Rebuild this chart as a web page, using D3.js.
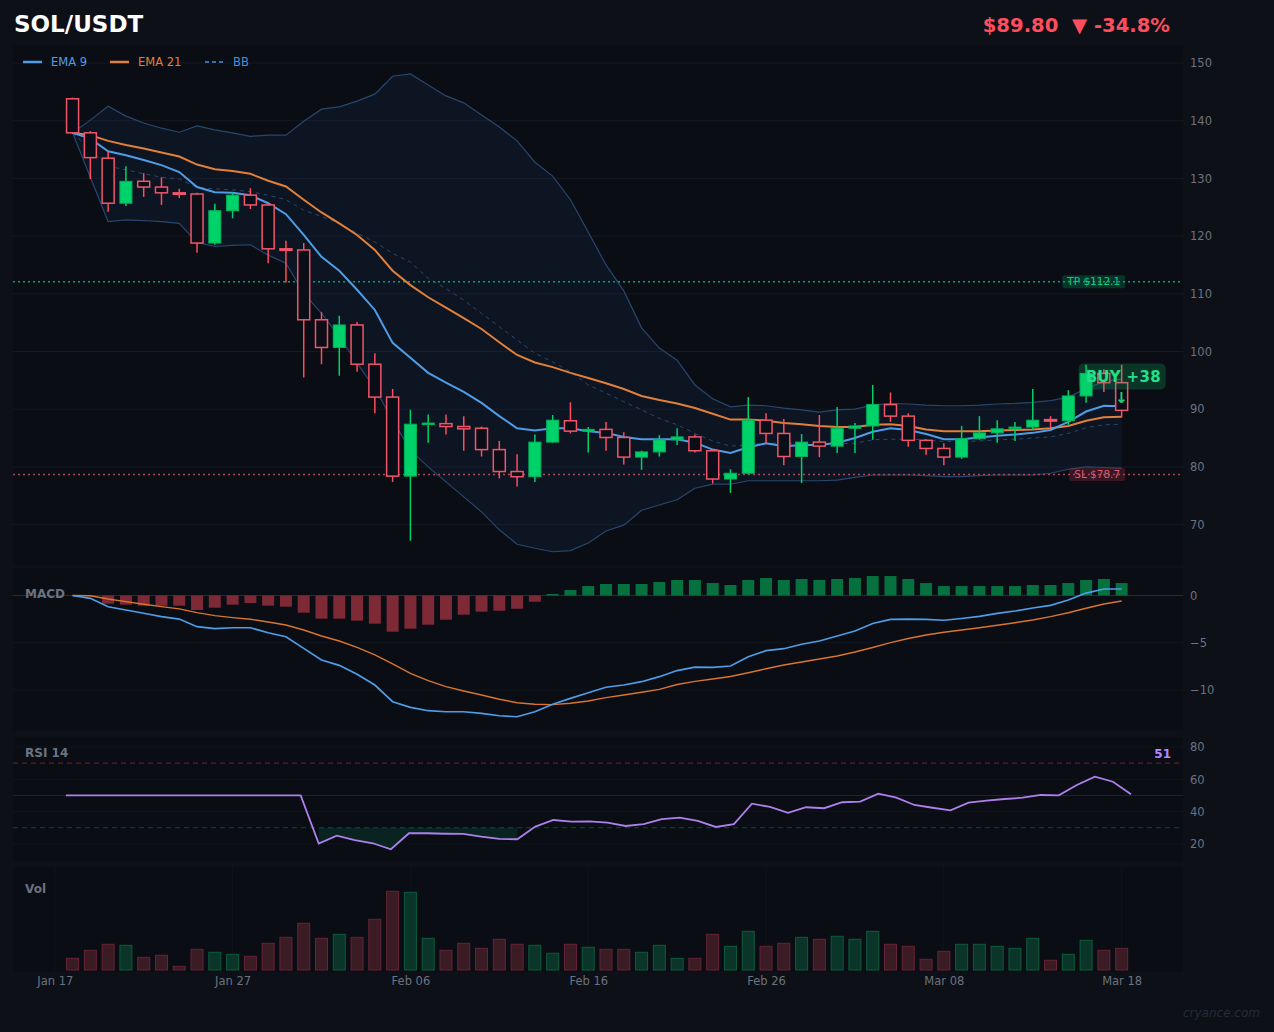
<!DOCTYPE html>
<html><head><meta charset="utf-8">
<script src="https://cdn.jsdelivr.net/npm/d3@7"></script>
<style>
html,body{margin:0;padding:0;background:#0d1017;}
svg{display:block;font-family:"DejaVu Sans",sans-serif;}
</style></head><body>
<svg id="c" width="1274" height="1032"></svg>
<script>
// ---------------- DATA ----------------
const startDate = "2025-01-18";
const opens  = [143.8,137.9,133.5,125.7,129.5,128.5,127.5,127.3,118.8,124.4,127.1,125.4,117.8,117.6,105.5,100.7,104.6,97.8,92.1,78.4,87.4,87.5,87.0,86.7,83.0,79.2,78.3,84.3,88.0,86.2,86.5,85.1,81.7,82.6,84.7,85.2,82.8,77.9,78.9,88.1,85.8,81.8,84.3,83.6,86.7,87.1,90.8,88.8,84.6,83.2,81.7,84.9,85.9,86.6,86.9,88.2,88.0,92.3,96.2,94.6];
const highs  = [144.0,138.2,134.6,132.1,130.9,130.2,128.2,127.5,125.6,127.6,128.3,125.5,119.2,118.8,106.8,106.2,105.1,99.7,93.5,89.9,89.1,89.1,88.8,87.0,84.5,82.2,85.6,89.0,91.2,86.9,87.8,86.0,82.8,85.5,86.7,85.6,83.0,79.6,92.1,89.3,88.3,85.7,89.0,90.4,87.6,94.2,92.9,89.3,84.8,84.1,87.1,88.8,88.1,87.8,93.5,88.8,93.3,97.7,96.9,97.7];
const lows   = [137.8,129.9,124.2,125.2,126.8,125.4,126.6,117.1,118.5,123.1,124.7,115.3,111.9,95.5,97.8,95.8,96.5,89.3,77.4,67.2,84.2,85.6,82.8,81.8,78.0,76.6,77.4,84.2,85.8,82.5,82.8,80.4,79.5,81.8,83.8,82.5,77.1,75.5,78.7,84.2,80.3,77.2,81.7,82.4,82.4,84.7,87.8,83.5,82.1,80.3,81.4,84.7,84.2,84.5,86.4,86.8,87.3,91.1,93.0,88.6];
const closes = [137.9,133.6,125.7,129.5,128.5,127.5,127.3,118.8,124.4,127.1,125.4,117.8,117.6,105.5,100.7,104.6,97.8,92.1,78.4,87.4,87.6,87.0,86.6,83.0,79.2,78.3,84.3,88.1,86.2,86.5,85.1,81.7,82.6,84.7,85.2,82.8,77.9,78.9,88.1,85.8,81.8,84.3,83.6,86.7,87.1,90.8,88.8,84.6,83.2,81.7,84.9,85.9,86.6,86.9,88.1,88.0,92.3,96.2,94.6,89.8];
const volumes = [1.17,1.97,2.57,2.47,1.27,1.47,0.37,2.07,1.77,1.57,1.37,2.67,3.27,4.67,3.17,3.57,3.27,5.07,7.87,7.77,3.17,1.97,2.67,2.17,3.07,2.57,2.47,1.67,2.57,2.27,2.07,2.07,1.77,2.47,1.17,1.17,3.57,2.37,3.87,2.37,2.67,3.27,3.07,3.37,3.07,3.87,2.57,2.37,1.07,1.87,2.57,2.57,2.37,2.17,3.17,0.97,1.57,2.97,1.97,2.17];
const ema9  = [137.9,136.9,134.7,134.0,133.2,132.3,131.1,128.5,127.6,127.5,127.1,125.7,123.8,120.2,116.4,114.0,110.7,107.2,101.5,98.9,96.3,94.6,93.0,91.1,88.8,86.7,86.3,86.7,86.7,86.2,85.9,85.2,84.8,84.8,84.8,84.2,83.0,82.4,83.4,84.1,83.6,83.8,83.8,84.2,85.0,86.1,86.7,86.4,85.7,84.8,84.8,85.1,85.4,85.6,85.9,86.4,87.8,89.6,90.6,90.5];
const ema21 = [137.9,137.5,136.5,135.8,135.2,134.5,133.8,132.4,131.6,131.3,130.8,129.6,128.6,126.3,124.1,122.2,120.2,117.6,114.0,111.5,109.4,107.6,105.8,103.9,101.6,99.4,98.1,97.3,96.3,95.4,94.5,93.5,92.3,91.6,91.0,90.2,89.2,88.2,88.2,88.0,87.6,87.4,87.1,86.9,86.9,87.3,87.4,87.1,86.5,86.2,86.2,86.2,86.3,86.4,86.5,86.7,87.1,88.0,88.6,88.7];
const bbUpper = [137.9,140.1,142.5,140.8,139.6,138.7,138.0,139.1,138.4,137.9,137.3,137.5,137.5,139.9,142.0,142.4,143.4,144.6,147.7,148.1,146.2,144.3,143.1,141.0,138.9,136.5,132.8,130.4,126.3,120.7,115.0,110.5,104.1,100.6,98.5,94.2,91.8,90.4,90.7,90.6,90.2,89.9,89.5,89.9,90.0,90.7,91.0,90.9,90.7,90.6,90.6,90.7,90.9,91.0,91.2,91.5,92.1,93.6,94.8,95.2];
const bbMid   = [137.9,135.0,132.1,131.5,130.8,130.2,129.9,128.4,128.2,128.0,127.7,127.1,126.3,124.5,123.4,122.2,120.5,119.0,117.0,115.5,112.7,110.9,108.9,106.6,104.3,102.0,99.7,98.2,96.5,94.2,92.8,91.3,89.9,88.4,87.3,85.8,84.5,83.6,83.8,84.1,84.1,84.1,84.0,84.0,84.1,84.7,84.8,84.8,84.7,84.4,84.4,84.5,84.7,84.8,85.0,85.2,85.8,86.8,87.3,87.4];
const bbLower = [137.9,130.2,122.5,122.8,122.7,122.5,122.2,118.9,118.2,118.4,118.5,116.7,115.3,110.1,106.6,102.6,98.0,93.6,88.1,82.9,80.0,77.4,74.8,72.2,69.1,66.6,65.9,65.3,65.5,66.8,68.9,69.9,72.5,73.4,74.3,76.3,77.0,77.0,77.6,77.6,77.6,77.6,77.6,77.7,78.2,78.6,78.6,78.6,78.5,78.3,78.3,78.5,78.6,78.6,78.6,78.9,79.6,80.0,79.9,79.8];
const macdLine   = [0,-0.30,-1.19,-1.53,-1.88,-2.24,-2.49,-3.30,-3.51,-3.41,-3.41,-3.94,-4.36,-5.59,-6.83,-7.39,-8.34,-9.47,-11.24,-11.83,-12.19,-12.30,-12.30,-12.47,-12.72,-12.83,-12.30,-11.51,-10.88,-10.29,-9.71,-9.47,-9.12,-8.59,-7.94,-7.57,-7.60,-7.46,-6.48,-5.84,-5.63,-5.16,-4.81,-4.29,-3.76,-2.96,-2.52,-2.49,-2.52,-2.62,-2.43,-2.20,-1.90,-1.64,-1.32,-1.04,-0.48,0.26,0.69,0.69];
const macdSignal = [0,-0.02,-0.37,-0.65,-0.93,-1.18,-1.42,-1.81,-2.13,-2.34,-2.51,-2.80,-3.12,-3.65,-4.28,-4.81,-5.48,-6.29,-7.24,-8.23,-9.01,-9.64,-10.10,-10.53,-10.98,-11.34,-11.51,-11.55,-11.40,-11.16,-10.81,-10.52,-10.24,-9.93,-9.42,-9.08,-8.84,-8.57,-8.17,-7.75,-7.35,-7.04,-6.72,-6.40,-5.98,-5.50,-4.99,-4.55,-4.18,-3.89,-3.65,-3.41,-3.15,-2.88,-2.59,-2.24,-1.82,-1.35,-0.90,-0.58];
const macdHist   = [0,-0.08,-0.87,-0.97,-1.08,-1.08,-1.08,-1.53,-1.29,-0.97,-0.79,-1.08,-1.18,-1.82,-2.45,-2.45,-2.66,-2.98,-3.83,-3.51,-3.09,-2.56,-2.03,-1.71,-1.61,-1.40,-0.66,0.16,0.58,1.00,1.22,1.22,1.22,1.43,1.64,1.64,1.32,1.11,1.64,1.85,1.64,1.75,1.64,1.75,1.85,2.06,2.06,1.75,1.32,1.00,1.00,1.00,1.00,1.00,1.11,1.11,1.32,1.64,1.75,1.32];
const rsi14 = [50,50,50,50,50,50,50,50,50,50,50,50,50,50,20.2,25.1,22.4,20.4,16.7,26.6,26.6,26.3,26.2,24.5,23.1,22.9,30.7,34.8,33.8,34.0,33.2,31.1,32.3,35.4,36.3,34.2,30.5,32.2,44.9,42.9,39.2,42.7,42.1,45.8,46.2,51.1,48.6,44.1,42.4,40.8,45.5,46.8,47.8,48.6,50.3,50.1,56.5,61.6,58.5,50.7];
const priceTicks = [70,80,90,100,110,120,130,140,150];
const macdTicks = [0,-5,-10];
const rsiTicks = [20,40,60,80];
const dateTicks = ["2025-01-17","2025-01-27","2025-02-06","2025-02-16","2025-02-26","2025-03-08","2025-03-18"];
const takeProfit = 112.1, stopLoss = 78.7;
const signalText = "BUY +38";
const headerPrice = "$89.80  \u25BC -34.8%";

// ---------------- LAYOUT ----------------
const DAY = 864e5;
const svg = d3.select("#c");
const L = 13, R = 1183;
const P = {main:[45,565], macd:[568,730], rsi:[737,862], vol:[867,972]};
const GRAY = "#6b7280", GREEN = "#00d26a", RED = "#f0566a";

const start = new Date(startDate);
const dates = d3.utcDay.range(start, d3.utcDay.offset(start, opens.length));
const data = dates.map((d,i)=>({date:d,o:opens[i],h:highs[i],l:lows[i],c:closes[i],v:volumes[i],
  e9:ema9[i],e21:ema21[i],bu:bbUpper[i],bm:bbMid[i],bl:bbLower[i],
  m:macdLine[i],s:macdSignal[i],hist:macdHist[i],rsi:rsi14[i]}));
const last = data[data.length-1];

const x = d3.scaleUtc().domain([new Date(+dates[0]-3.35*DAY), new Date(+last.date+3.45*DAY)]).range([L,R]);
const xr = d3.scaleUtc().domain([dates[0], last.date]).range([66,1131]);
const y = d3.scaleLinear().domain([63,153.12]).range([P.main[1],P.main[0]]);
const yM = d3.scaleLinear().domain([-14.23,2.91]).range([P.macd[1],P.macd[0]]);
const yR = d3.scaleLinear().domain([8.8,86.2]).range([P.rsi[1],P.rsi[0]]);
const yV = d3.scaleLinear().domain([0,10.3]).range([970,P.vol[0]]);

const defs = svg.append("defs");
Object.entries(P).forEach(([k,[t,b]])=>{
  svg.append("rect").attr("x",L).attr("y",t).attr("width",R-L).attr("height",b-t).attr("fill","#0a0d14");
  defs.append("clipPath").attr("id","clip-"+k).append("rect").attr("x",L).attr("y",t).attr("width",R-L).attr("height",b-t);
});
const gMain = svg.append("g").attr("clip-path","url(#clip-main)");
const gMacd = svg.append("g").attr("clip-path","url(#clip-macd)");
const gRsi  = svg.append("g").attr("clip-path","url(#clip-rsi)");
const gVol  = svg.append("g").attr("clip-path","url(#clip-vol)");

function hgrid(g, scale, ticks, color){
  g.selectAll(null).data(ticks).join("line")
    .attr("x1",L).attr("x2",R).attr("y1",d=>scale(d)).attr("y2",d=>scale(d))
    .attr("stroke",color).attr("stroke-width",1);
}
function rightAxis(scale, ticks){
  const ax = svg.append("g").attr("transform",`translate(${R},0)`)
    .call(d3.axisRight(scale).tickValues(ticks).tickSize(0).tickPadding(7));
  ax.select(".domain").remove();
  ax.selectAll("text").attr("fill",GRAY).style("font-size","11.5px").style("font-family","DejaVu Sans");
}

// ---------------- MAIN PANEL ----------------
hgrid(gMain, y, priceTicks, "#141922");
gMain.append("path").datum(data)
  .attr("d", d3.area().x(d=>x(d.date)).y0(d=>y(d.bl)).y1(d=>y(d.bu)))
  .attr("fill","rgba(45,90,170,0.10)");
[["bu"],["bl"]].forEach(([k])=>{
  gMain.append("path").datum(data).attr("d", d3.line().x(d=>x(d.date)).y(d=>y(d[k])))
    .attr("fill","none").attr("stroke","#28476e").attr("stroke-width",1.2);
});
gMain.append("path").datum(data).attr("d", d3.line().x(d=>x(d.date)).y(d=>y(d.bm)))
  .attr("fill","none").attr("stroke","#2b4870").attr("stroke-width",1).attr("stroke-dasharray","4,4");

gMain.append("line").attr("x1",L).attr("x2",R).attr("y1",y(takeProfit)).attr("y2",y(takeProfit))
  .attr("stroke","#00a56c").attr("stroke-width",1.5).attr("stroke-dasharray","2,3");
gMain.append("line").attr("x1",L).attr("x2",R).attr("y1",y(stopLoss)).attr("y2",y(stopLoss))
  .attr("stroke","#a8475a").attr("stroke-width",1.5).attr("stroke-dasharray","2,3");

gMain.append("path").datum(data).attr("d", d3.line().x(d=>x(d.date)).y(d=>y(d.e21)))
  .attr("fill","none").attr("stroke","#e0803a").attr("stroke-width",2);
gMain.append("path").datum(data).attr("d", d3.line().x(d=>x(d.date)).y(d=>y(d.e9)))
  .attr("fill","none").attr("stroke","#4f9de6").attr("stroke-width",2);

const bw = 12;
const cg = gMain.selectAll("g.candle").data(data).join("g");
cg.append("line").attr("x1",d=>x(d.date)).attr("x2",d=>x(d.date))
  .attr("y1",d=>y(d.h)).attr("y2",d=>y(d.l))
  .attr("stroke",d=>d.c>=d.o?GREEN:"#ff4d5e").attr("stroke-width",1.5);
cg.append("rect").attr("x",d=>x(d.date)-bw/2).attr("width",bw)
  .attr("y",d=>y(Math.max(d.o,d.c))).attr("height",d=>Math.max(1.5,Math.abs(y(d.o)-y(d.c))))
  .attr("fill",d=>d.c>=d.o?GREEN:"#0b0e16")
  .attr("stroke",d=>d.c>=d.o?"#00b35c":RED).attr("stroke-width",d=>d.c>=d.o?1:1.5);

// legend
const leg = svg.append("g").style("font-size","11.5px");
[["EMA 9","#4f9de6",23,null],["EMA 21","#e0803a",110,null],["BB","#4a8fd8",205,"4,3"]].forEach(([t,c,lx,dash])=>{
  leg.append("line").attr("x1",lx).attr("x2",lx+19).attr("y1",62).attr("y2",62)
    .attr("stroke",c).attr("stroke-width",dash?1.5:2.5).attr("stroke-dasharray",dash);
  leg.append("text").attr("x",lx+28).attr("y",66).attr("fill",c).text(t);
});

// TP / SL labels
function tag(val, txt, bg, fg){
  const right = x(last.date)+3.5;
  const t = svg.append("text").attr("x",right-5).attr("y",y(val)+3.8).attr("text-anchor","end")
    .attr("fill",fg).style("font-size","10.5px").text(txt);
  const w = t.node().getComputedTextLength();
  svg.insert("rect", () => t.node()).attr("x",right-w-10).attr("y",y(val)-6.5)
    .attr("width",w+10).attr("height",13).attr("rx",2).attr("fill",bg);
}
tag(takeProfit, "TP $"+takeProfit, "rgba(0,170,105,0.25)", "#14c985");
tag(stopLoss, "SL $"+stopLoss, "rgba(200,50,75,0.25)", "#dc5e70");

// signal label
const sx = x(last.date);
svg.append("rect").attr("x",sx-43).attr("y",y(96.2)-10).attr("width",87).attr("height",26).attr("rx",5)
  .attr("fill","rgba(20,200,110,0.22)");
svg.append("text").attr("x",sx-36).attr("y",y(96.2)+8.5).attr("fill","#22e08a")
  .style("font-size","15px").style("font-weight","bold").style("letter-spacing","0.3px").text(signalText);
svg.append("text").attr("x",sx).attr("y",y(last.c)-7).attr("text-anchor","middle").attr("fill","#1fd07c")
  .style("font-size","15px").style("font-weight","bold").text("\u2193");

rightAxis(y, priceTicks);

// ---------------- MACD ----------------
hgrid(gMacd, yM, [-5,-10], "#12161e");
hgrid(gMacd, yM, [0], "#272d38");
gMacd.selectAll("rect").data(data).join("rect")
  .attr("x",d=>x(d.date)-6).attr("width",12)
  .attr("y",d=>Math.min(yM(0),yM(d.hist))).attr("height",d=>Math.abs(yM(d.hist)-yM(0)))
  .attr("fill",d=>d.hist>=0?"#06703f":"#7d2a36");
gMacd.append("path").datum(data).attr("d", d3.line().x(d=>x(d.date)).y(d=>yM(d.s)))
  .attr("fill","none").attr("stroke","#d9752f").attr("stroke-width",1.4);
gMacd.append("path").datum(data).attr("d", d3.line().x(d=>x(d.date)).y(d=>yM(d.m)))
  .attr("fill","none").attr("stroke","#4f9de6").attr("stroke-width",1.7);
svg.append("text").attr("x",25).attr("y",598).attr("fill",GRAY).style("font-size","12px").style("font-weight","bold").text("MACD");
rightAxis(yM, macdTicks);

// ---------------- RSI ----------------
hgrid(gRsi, yR, rsiTicks, "#11151d");
hgrid(gRsi, yR, [50], "#21262f");
gRsi.append("line").attr("x1",L).attr("x2",R).attr("y1",yR(70)).attr("y2",yR(70))
  .attr("stroke","#5e1f2c").attr("stroke-width",1.2).attr("stroke-dasharray","5,4");
gRsi.append("line").attr("x1",L).attr("x2",R).attr("y1",yR(30)).attr("y2",yR(30))
  .attr("stroke","#0f4a36").attr("stroke-width",1.2).attr("stroke-dasharray","5,4");
gRsi.append("path").datum(data)
  .attr("d", d3.area().defined(d=>d.rsi<30).x(d=>xr(d.date)).y0(yR(30)).y1(d=>yR(d.rsi)))
  .attr("fill","rgba(0,160,100,0.15)");
gRsi.append("path").datum(data).attr("d", d3.line().x(d=>xr(d.date)).y(d=>yR(d.rsi)))
  .attr("fill","none").attr("stroke","#ad80ec").attr("stroke-width",1.8);
svg.append("text").attr("x",25).attr("y",757).attr("fill",GRAY).style("font-size","12px").style("font-weight","bold").text("RSI 14");
svg.append("text").attr("x",1171).attr("y",757.5).attr("text-anchor","end").attr("fill","#b388ff")
  .style("font-size","12px").style("font-weight","bold").text(Math.round(last.rsi));
rightAxis(yR, rsiTicks);

// ---------------- VOLUME ----------------
gVol.selectAll("line.vg").data(dateTicks).join("line")
  .attr("x1",d=>x(new Date(d))).attr("x2",d=>x(new Date(d))).attr("y1",P.vol[0]).attr("y2",P.vol[1])
  .attr("stroke","#10141b").attr("stroke-width",1);
gVol.selectAll("rect.vb").data(data).join("rect")
  .attr("x",d=>x(d.date)-6).attr("width",12)
  .attr("y",d=>yV(d.v)).attr("height",d=>yV(0)-yV(d.v))
  .attr("fill",d=>d.c>=d.o?"#0a3528":"#3b1b24")
  .attr("stroke",d=>d.c>=d.o?"#0d5c3c":"#672436").attr("stroke-width",1);
svg.append("text").attr("x",25).attr("y",893).attr("fill",GRAY).style("font-size","12px").style("font-weight","bold").text("Vol");

// x axis
const xa = svg.append("g").attr("transform",`translate(0,${P.vol[1]})`)
  .call(d3.axisBottom(x).tickValues(dateTicks.map(d=>new Date(d))).tickFormat(d3.utcFormat("%b %d")).tickSize(0).tickPadding(5));
xa.select(".domain").remove();
xa.selectAll("text").attr("fill",GRAY).style("font-size","11.5px").style("font-family","DejaVu Sans");

// ---------------- HEADER ----------------
svg.append("text").attr("x",14).attr("y",31.5).attr("fill","#ffffff")
  .style("font-size","23px").style("font-weight","bold").text("SOL/USDT");
svg.append("text").attr("x",1170).attr("y",31.5).attr("text-anchor","end").attr("fill","#ff4d5e")
  .style("font-size","19.6px").style("font-weight","bold").style("white-space","pre").text(headerPrice);
svg.append("text").attr("x",1260).attr("y",1017).attr("text-anchor","end").attr("fill","#262b35")
  .style("font-size","12px").style("font-style","italic").text("cryance.com");
</script>
</body></html>
